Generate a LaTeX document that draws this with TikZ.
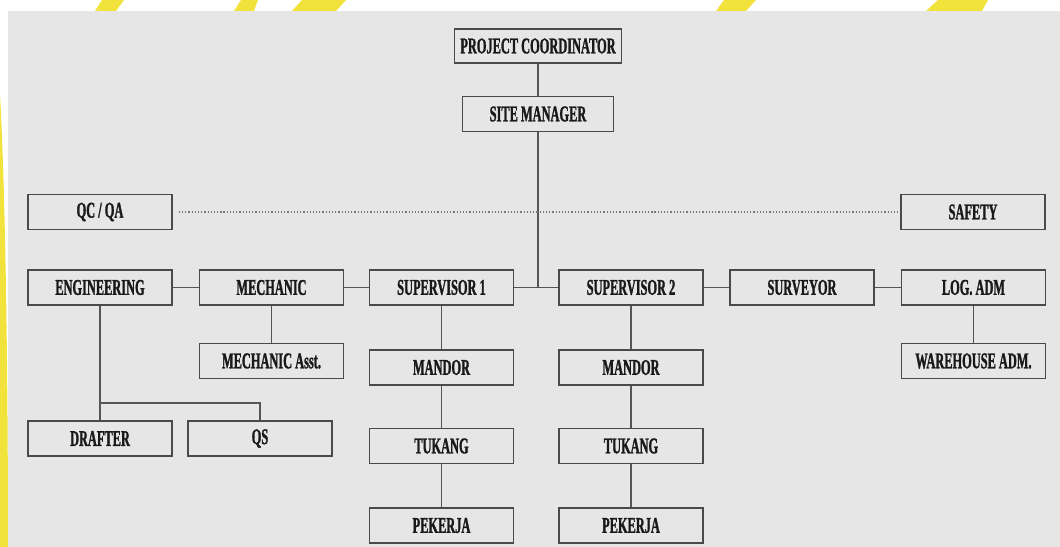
\documentclass[tikz,border=0pt]{standalone}
\usepackage{fontspec}
\setmainfont{Liberation Serif}[FakeStretch=0.55, BoldFeatures={FakeBold=1.2}]
\definecolor{bg}{HTML}{E6E6E6}
\definecolor{boxline}{HTML}{4A4A4A}
\definecolor{conn}{HTML}{555555}
\definecolor{wm}{HTML}{F2E33C}
\tikzset{
  orgbox/.style={draw=boxline, line width=1.6bp, fill=bg, minimum width=144bp, minimum height=35bp, inner sep=0pt,
    font=\fontsize{22.5bp}{26bp}\selectfont\bfseries, text=black!90},
  link/.style={draw=conn, line width=1.5bp},
  dotlink/.style={draw=conn!80, line width=1.2bp, dotted}
}
\begin{document}
\begin{tikzpicture}[x=1bp,y=-1bp]
\useasboundingbox (0,0) rectangle (1060,547);
\fill[white] (0,0) rectangle (1060,547);
% watermark fragments
\fill[wm] (0,95) .. controls (6,200) and (8,400) .. (8,547) -- (0,547) -- cycle;
\fill[wm] (95,11) -- (102,0) -- (124,0) -- (116,11) -- cycle;
\fill[wm] (234,11) -- (241,0) -- (258,0) -- (254,11) -- cycle;
\fill[wm] (292,11) -- (302,0) -- (346,0) -- (336,11) -- cycle;
\fill[wm] (716,11) -- (724,0) -- (756,0) -- (746,11) -- cycle;
\fill[wm] (926,11) -- (938,0) -- (988,0) -- (982,11) -- cycle;
% background panel
\fill[bg] (8,11) rectangle (1060,547);

% nodes
\node[orgbox, minimum width=167bp, minimum height=34bp] (pc) at (538,46) {PROJECT COORDINATOR};
\node[orgbox, minimum width=151bp] (sm) at (538,114) {SITE MANAGER};
\node[orgbox] (qc) at (100,212) {QC / QA};
\node[orgbox] (safety) at (973,212) {SAFETY};

\node[orgbox] (eng) at (100,287.5) {ENGINEERING};
\node[orgbox] (mech) at (271.5,287.5) {MECHANIC};
\node[orgbox] (sup1) at (441.5,287.5) {SUPERVISOR 1};
\node[orgbox] (sup2) at (631,287.5) {SUPERVISOR 2};
\node[orgbox] (surv) at (802,287.5) {SURVEYOR};
\node[orgbox] (log) at (973.5,287.5) {LOG. ADM};

\node[orgbox] (mecha) at (271.5,361) {MECHANIC Asst.};
\node[orgbox] (wh) at (973.5,361) {WAREHOUSE ADM.};
\node[orgbox] (man1) at (441.5,367.5) {MANDOR};
\node[orgbox] (man2) at (631,367.5) {MANDOR};

\node[orgbox] (drafter) at (100,438.5) {DRAFTER};
\node[orgbox] (qs) at (260,438.5) {QS};
\node[orgbox] (tuk1) at (441.5,446) {TUKANG};
\node[orgbox] (tuk2) at (631,446) {TUKANG};
\node[orgbox] (pek1) at (441.5,525.5) {PEKERJA};
\node[orgbox] (pek2) at (631,525.5) {PEKERJA};

% connectors
\coordinate (junc) at (sm.south |- sup1.east);
\draw[link] (pc.south) -- (sm.north);
\draw[link] (sm.south) -- (junc);
\draw[dotlink, shorten <=6bp, shorten >=2bp] (qc.east) -- (safety.west);
\draw[link] (eng.east) -- (mech.west);
\draw[link] (mech.east) -- (sup1.west);
\draw[link] (sup1.east) -- (sup2.west);
\draw[link] (sup2.east) -- (surv.west);
\draw[link] (surv.east) -- (log.west);
\draw[link] (mech.south) -- (mecha.north);
\draw[link] (log.south) -- (wh.north);
\draw[link] (sup1.south) -- (man1.north);
\draw[link] (man1.south) -- (tuk1.north);
\draw[link] (tuk1.south) -- (pek1.north);
\draw[link] (sup2.south) -- (man2.north);
\draw[link] (man2.south) -- (tuk2.north);
\draw[link] (tuk2.south) -- (pek2.north);
\coordinate (br) at (100,403);
\draw[link] (eng.south) -- (drafter.north);
\draw[link] (br) -| (qs.north);
\end{tikzpicture}
\end{document}
